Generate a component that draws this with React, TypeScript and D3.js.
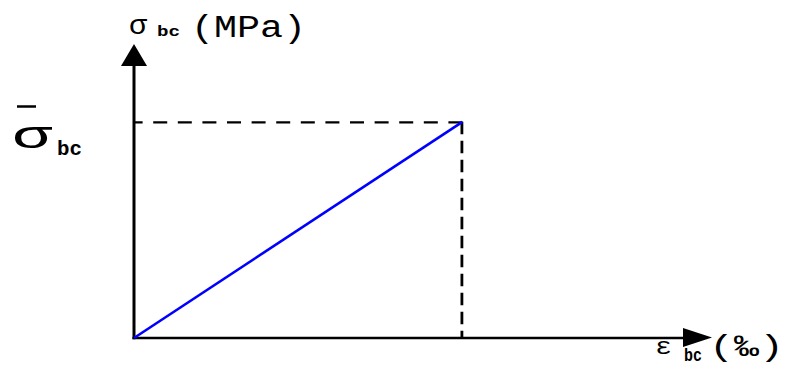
import React from "react";
import * as d3 from "d3";

// ---- data (normalized linear elastic law of concrete in compression) ----
const strainValues = [0, 2]; // ε_bc (‰) at origin and at the limit point
const stressValues = [0, 1]; // σ_bc / σ̄_bc
const strainAxisMax = 3.52; // extent of the ε axis (arrow tip)
const stressAxisMax = 1.36; // extent of the σ axis (arrow tip)

const yLabelParts = ["σ", "bc", "(MPa)"];
const limitLabelParts = ["σ", "bc"];
const xLabelParts = ["ε", "bc", "(‰)"];

const W = 787;
const H = 365;

export default function App() {
  const x = d3.scaleLinear().domain([0, strainAxisMax]).range([134, 712]);
  const y = d3.scaleLinear().domain([0, stressAxisMax]).range([338, 44]);

  const pts: [number, number][] = strainValues.map((s, i) => [s, stressValues[i]]);
  const line = d3
    .line<[number, number]>()
    .x((d) => x(d[0]))
    .y((d) => y(d[1]));

  const x0 = x(0);
  const y0 = y(0);
  const xPeak = x(strainValues[1]);
  const yPeak = y(stressValues[1]);
  const xTip = x(strainAxisMax);
  const yTip = y(stressAxisMax);

  const mono = "'Liberation Mono', 'Courier New', monospace";

  return (
    <svg
      width={W}
      height={H}
      viewBox={`0 0 ${W} ${H}`}
      style={{ position: "absolute", left: 0, top: 0, background: "#fff" }}
    >
      <rect x={0} y={0} width={W} height={H} fill="#fff" />
      {/* dashed guides */}
      <line
        x1={xPeak}
        y1={yPeak + 0.5}
        x2={x0 + 1}
        y2={yPeak + 0.5}
        stroke="#000"
        strokeWidth={2.3}
        strokeDasharray="14 10.6"
      />
      <line
        x1={xPeak - 0.5}
        y1={yPeak}
        x2={xPeak - 0.5}
        y2={y0}
        stroke="#000"
        strokeWidth={2.8}
        strokeDasharray="12.5 6.5"
      />
      {/* axes */}
      <line x1={x0 - 1.5} y1={y0} x2={xTip - 29} y2={y0} stroke="#000" strokeWidth={2.6} />
      <line x1={x0} y1={y0 + 1.3} x2={x0} y2={yTip + 21} stroke="#000" strokeWidth={3} />
      <path
        d={`M${xTip},${y0 - 0.5} L${xTip - 29},${y0 - 10} L${xTip - 29},${y0 + 9} Z`}
        fill="#000"
      />
      <path
        d={`M${x0},${yTip} L${x0 - 13},${yTip + 22} L${x0 + 13},${yTip + 22} Z`}
        fill="#000"
      />
      {/* stress-strain line */}
      <path d={line(pts) || ""} fill="none" stroke="#0000ff" strokeWidth={2.6} />

      <g fill="#000" fontFamily={mono}>
        {/* y axis label */}
        <text x={129} y={34} fontSize={28} textLength={18} lengthAdjust="spacingAndGlyphs">
          {yLabelParts[0]}
        </text>
        <text x={157} y={36} fontSize={15} fontWeight="bold" textLength={23} lengthAdjust="spacingAndGlyphs">
          {yLabelParts[1]}
        </text>
        <text x={191} y={37} fontSize={31} textLength={115} lengthAdjust="spacingAndGlyphs">
          {yLabelParts[2]}
        </text>

        {/* limit stress label */}
        <line x1={17} y1={106.5} x2={36} y2={106.5} stroke="#000" strokeWidth={2.5} />
        <text x={12} y={148} fontSize={38} textLength={40} lengthAdjust="spacingAndGlyphs">
          {limitLabelParts[0]}
        </text>
        <text x={57} y={155} fontSize={21} fontWeight="bold" textLength={25} lengthAdjust="spacingAndGlyphs">
          {limitLabelParts[1]}
        </text>

        {/* x axis label */}
        <text x={655} y={354} fontSize={24} textLength={17} lengthAdjust="spacingAndGlyphs">
          {xLabelParts[0]}
        </text>
        <text x={684} y={361} fontSize={18} fontWeight="bold" textLength={18} lengthAdjust="spacingAndGlyphs">
          {xLabelParts[1]}
        </text>
        <text x={709} y={356} fontSize={30} textLength={75} lengthAdjust="spacingAndGlyphs">
          {xLabelParts[2]}
        </text>
      </g>
    </svg>
  );
}
